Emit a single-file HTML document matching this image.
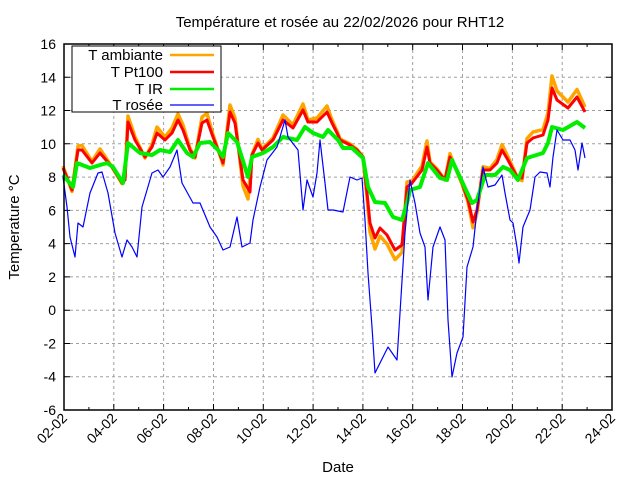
<!DOCTYPE html>
<html><head><meta charset="utf-8"><style>
body{margin:0;background:#fff}
svg{display:block;font-family:"Liberation Sans",sans-serif}
</style></head><body>
<svg width="640" height="480" xmlns="http://www.w3.org/2000/svg">
<rect width="640" height="480" fill="#fff"/>
<text x="340" y="27" font-size="15" text-anchor="middle">Température et rosée au 22/02/2026 pour RHT12</text>
<g stroke="#a0a0a0" stroke-dasharray="3,3" stroke-width="1">
<line x1="64" x2="612" y1="77.3" y2="77.3"/><line x1="64" x2="612" y1="110.5" y2="110.5"/><line x1="64" x2="612" y1="143.8" y2="143.8"/><line x1="64" x2="612" y1="177.1" y2="177.1"/><line x1="64" x2="612" y1="210.4" y2="210.4"/><line x1="64" x2="612" y1="243.6" y2="243.6"/><line x1="64" x2="612" y1="276.9" y2="276.9"/><line x1="64" x2="612" y1="310.2" y2="310.2"/><line x1="64" x2="612" y1="343.5" y2="343.5"/><line x1="64" x2="612" y1="376.7" y2="376.7"/>
<line y1="44" y2="410" x1="113.8" x2="113.8"/><line y1="44" y2="410" x1="163.6" x2="163.6"/><line y1="44" y2="410" x1="213.5" x2="213.5"/><line y1="44" y2="410" x1="263.3" x2="263.3"/><line y1="44" y2="410" x1="313.1" x2="313.1"/><line y1="44" y2="410" x1="362.9" x2="362.9"/><line y1="44" y2="410" x1="412.7" x2="412.7"/><line y1="44" y2="410" x1="462.5" x2="462.5"/><line y1="44" y2="410" x1="512.4" x2="512.4"/><line y1="44" y2="410" x1="562.2" x2="562.2"/>
</g>
<path stroke="#000" stroke-width="1" fill="none" d="M64 77.3h6M64 110.5h6M64 143.8h6M64 177.1h6M64 210.4h6M64 243.6h6M64 276.9h6M64 310.2h6M64 343.5h6M64 376.7h6
M606 77.3h6M606 110.5h6M606 143.8h6M606 177.1h6M606 210.4h6M606 243.6h6M606 276.9h6M606 310.2h6M606 343.5h6M606 376.7h6
M88.9 410v-3M113.8 410v-6M138.7 410v-3M163.6 410v-6M188.5 410v-3M213.5 410v-6M238.4 410v-3M263.3 410v-6M288.2 410v-3M313.1 410v-6M338 410v-3M362.9 410v-6M387.8 410v-3M412.7 410v-6M437.6 410v-3M462.5 410v-6M487.5 410v-3M512.4 410v-6M537.3 410v-3M562.2 410v-6M587.1 410v-3
M88.9 44v3M113.8 44v6M138.7 44v3M163.6 44v6M188.5 44v3M213.5 44v6M238.4 44v3M263.3 44v6M288.2 44v3M313.1 44v6M338 44v3M362.9 44v6M387.8 44v3M412.7 44v6M437.6 44v3M462.5 44v6M487.5 44v3M512.4 44v6M537.3 44v3M562.2 44v6M587.1 44v3"/>
<g font-size="14" text-anchor="end">
<text x="56" y="49">16</text><text x="56" y="82.3">14</text><text x="56" y="115.5">12</text><text x="56" y="148.8">10</text><text x="56" y="182.1">8</text><text x="56" y="215.4">6</text><text x="56" y="248.6">4</text><text x="56" y="281.9">2</text><text x="56" y="315.2">0</text><text x="56" y="348.5">-2</text><text x="56" y="381.7">-4</text><text x="56" y="415">-6</text>
<text transform="translate(68,419) rotate(-45)">02-02</text>
<text transform="translate(117.8,419) rotate(-45)">04-02</text>
<text transform="translate(167.6,419) rotate(-45)">06-02</text>
<text transform="translate(217.5,419) rotate(-45)">08-02</text>
<text transform="translate(267.3,419) rotate(-45)">10-02</text>
<text transform="translate(317.1,419) rotate(-45)">12-02</text>
<text transform="translate(366.9,419) rotate(-45)">14-02</text>
<text transform="translate(416.7,419) rotate(-45)">16-02</text>
<text transform="translate(466.5,419) rotate(-45)">18-02</text>
<text transform="translate(516.4,419) rotate(-45)">20-02</text>
<text transform="translate(566.2,419) rotate(-45)">22-02</text>
<text transform="translate(616,419) rotate(-45)">24-02</text>
</g>
<text x="338" y="472" font-size="15" text-anchor="middle">Date</text>
<text transform="translate(19,227) rotate(-90)" font-size="15" text-anchor="middle">Temperature °C</text>
<g fill="none" stroke-linejoin="round">
<polyline stroke="#ffa500" stroke-width="3.5" points="63,166 72,191.5 78,146 82,145.5 92,161.5 100,149 112,167 122,183.6 125,176 128,116 135,137 145,158 152,144.6 157,127 165,137 172,128 178,114 183,125 190,148.5 195,158 202,117 207,113.4 213,134.6 222,161.5 223,165 230,105 235,118 243,186 248,199 252,154.4 258,139.4 262,149 273,138 283,115 293,124.7 303,104 308,120 317,118 327,106 332,120 338,133.5 340,139 350,144 357,149.4 363,157 367,196.6 370,232 375,249 380,236 387,244 395,259.6 402,252.5 407,182 412,181 422,166 427,141 430,162 437,169 445,180 450,153.7 455,167 462,184 468,202 473,227.7 477,213 483,166.7 490,168.5 497,159.4 502,144.6 508,157 517,176.4 522,180.7 527,138.5 533,132 543,129.6 548,113 552,76 557,91 568,102 577,89.5 585,107"/>
<polyline stroke="#ff0000" stroke-width="3" points="63,168 72,190 78,150 82,150 92,163 100,153 112,167 122,183 125,180 128,122 135,140 145,157 152,147 157,133 165,140 172,133 178,120 183,130 190,150 195,157 202,123 207,120 213,137 222,160 223,163 230,112 235,123 243,180 250,192 252,155 258,143 262,150 273,140 283,120 293,128 303,110 308,122 317,122 327,112 332,123 338,135 340,140 350,145 357,150 363,157 367,193 370,223 375,238 380,228 387,235 395,250 402,245 407,187 412,183 422,170 427,147 430,163 437,170 445,180 450,157 455,167 462,183 468,200 473,222 477,210 483,170 490,170 497,163 502,150 508,160 517,177 522,178 527,143 533,138 543,135 548,120 552,88 557,100 568,108 577,97 585,112"/>
<polyline stroke="#00ee00" stroke-width="4" points="63,175 73,187 77,163 90,168 107,163 113,167 123,183 128,143 140,153 152,155 160,150 170,152 178,140 187,153 193,157 200,143 210,142 218,150 223,157 228,133 237,142 248,177 252,157 263,153 273,147 283,137 297,140 305,127 313,133 323,137 328,130 338,140 343,148 352,148 363,158 368,187 375,202 385,203 393,217 402,220 407,203 410,190 420,187 428,163 440,178 447,180 452,160 458,173 472,203 477,200 485,175 495,175 503,167 510,170 518,180 527,158 543,153 548,143 552,127 563,130 577,122 585,128"/>
<polyline stroke="#0000ff" stroke-width="1.2" points="63,177 67,207 70,237 75,257 78,223 83,227 90,193 98,173 102,172 108,193 115,233 122,257 127,240 132,247 137,257 142,207 152,173 158,170 163,177 170,167 177,150 182,183 193,203 200,203 210,227 217,237 223,250 230,247 237,217 242,247 250,243 253,220 260,187 267,160 277,147 285,120 288,137 298,150 303,210 307,180 313,197 317,173 320,140 325,183 328,210 333,210 343,212 350,177 357,180 362,178 365,220 368,273 372,327 375,373 383,357 388,347 397,360 400,313 405,233 410,180 415,203 420,233 425,247 428,300 433,247 440,227 445,240 448,320 452,377 457,353 463,337 467,267 473,247 477,210 483,167 488,187 495,185 502,175 505,193 510,220 513,223 517,247 519,263 523,227 530,210 535,177 540,172 547,173 550,187 553,157 557,130 563,140 570,140 575,150 578,170 582,143 585,158"/>
</g>
<rect x="64" y="44" width="548" height="366" fill="none" stroke="#000" stroke-width="1.5"/>
<rect x="72" y="46" width="149" height="66" fill="#fff" stroke="#000" stroke-width="1"/>
<g font-size="15" text-anchor="end">
<text x="163" y="60">T ambiante</text>
<text x="163" y="77">T Pt100</text>
<text x="163" y="94">T IR</text>
<text x="163" y="110">T rosée</text>
</g>
<line x1="170" y1="55" x2="214" y2="55" stroke="#ffa500" stroke-width="2.5"/>
<line x1="170" y1="72" x2="214" y2="72" stroke="#ff0000" stroke-width="2.5"/>
<line x1="170" y1="89" x2="214" y2="89" stroke="#00ee00" stroke-width="2.5"/>
<line x1="170" y1="105" x2="214" y2="105" stroke="#0000ff" stroke-width="1.2"/>
</svg>
</body></html>
